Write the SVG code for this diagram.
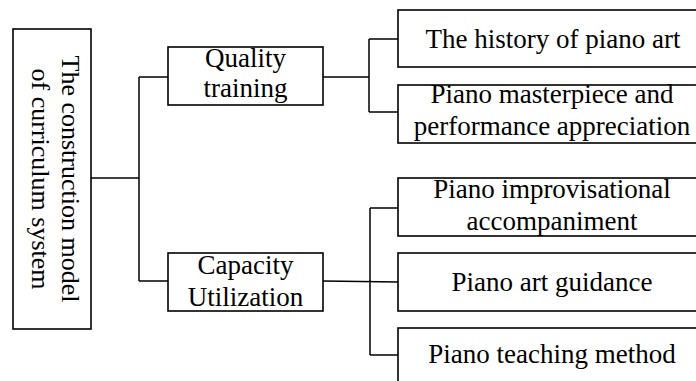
<svg xmlns="http://www.w3.org/2000/svg" width="696" height="381" viewBox="0 0 696 381">
<style>
.box{fill:#fff;stroke:#000;stroke-width:1.6}
.t{font-family:"Liberation Serif","Times New Roman",serif;font-size:27px;fill:#000;text-anchor:middle}
.r{font-size:26px}
.c{fill:none;stroke:#000;stroke-width:1.5}
</style>
<rect width="696" height="381" fill="#fff"/>
<g id="connectors">
<path class="c" d="M91,178 H139 M139,77 V281 M139,77 H168 M139,281 H168"/>
<path class="c" d="M323,77 H369 M369,39 V112 M369,39 H398 M369,112 H398"/>
<path class="c" d="M323,281 L398,282 M370,208 V355 M370,208 H398 M370,355 H398"/>
</g>
<g id="root">
<rect class="box" x="13" y="29" width="78" height="300"/>
<text class="t r" transform="translate(62,179) rotate(90)"><tspan x="0" y="0">The construction model</tspan><tspan x="0" dy="30">of curriculum system</tspan></text>
</g>
<g id="quality">
<rect class="box" x="168" y="47" width="155" height="58"/>
<text class="t"><tspan x="245.5" y="67">Quality</tspan><tspan x="245.5" y="97">training</tspan></text>
</g>
<g id="capacity">
<rect class="box" x="168" y="253" width="155" height="58"/>
<text class="t"><tspan x="245.5" y="274">Capacity</tspan><tspan x="245.5" y="306">Utilization</tspan></text>
</g>
<g id="history">
<rect class="box" x="398" y="10" width="310" height="57"/>
<text class="t" x="553" y="48">The history of piano art</text>
</g>
<g id="masterpiece">
<rect class="box" x="398" y="85" width="310" height="58"/>
<text class="t"><tspan x="552" y="103">Piano masterpiece and</tspan><tspan x="552" y="135">performance appreciation</tspan></text>
</g>
<g id="improvisational">
<rect class="box" x="398" y="178" width="310" height="58"/>
<text class="t"><tspan x="552" y="198">Piano improvisational</tspan><tspan x="552" y="230">accompaniment</tspan></text>
</g>
<g id="guidance">
<rect class="box" x="398" y="253" width="310" height="58"/>
<text class="t" x="552" y="291">Piano art guidance</text>
</g>
<g id="teaching">
<rect class="box" x="398" y="328" width="310" height="70"/>
<text class="t" x="552" y="363">Piano teaching method</text>
</g>
</svg>
